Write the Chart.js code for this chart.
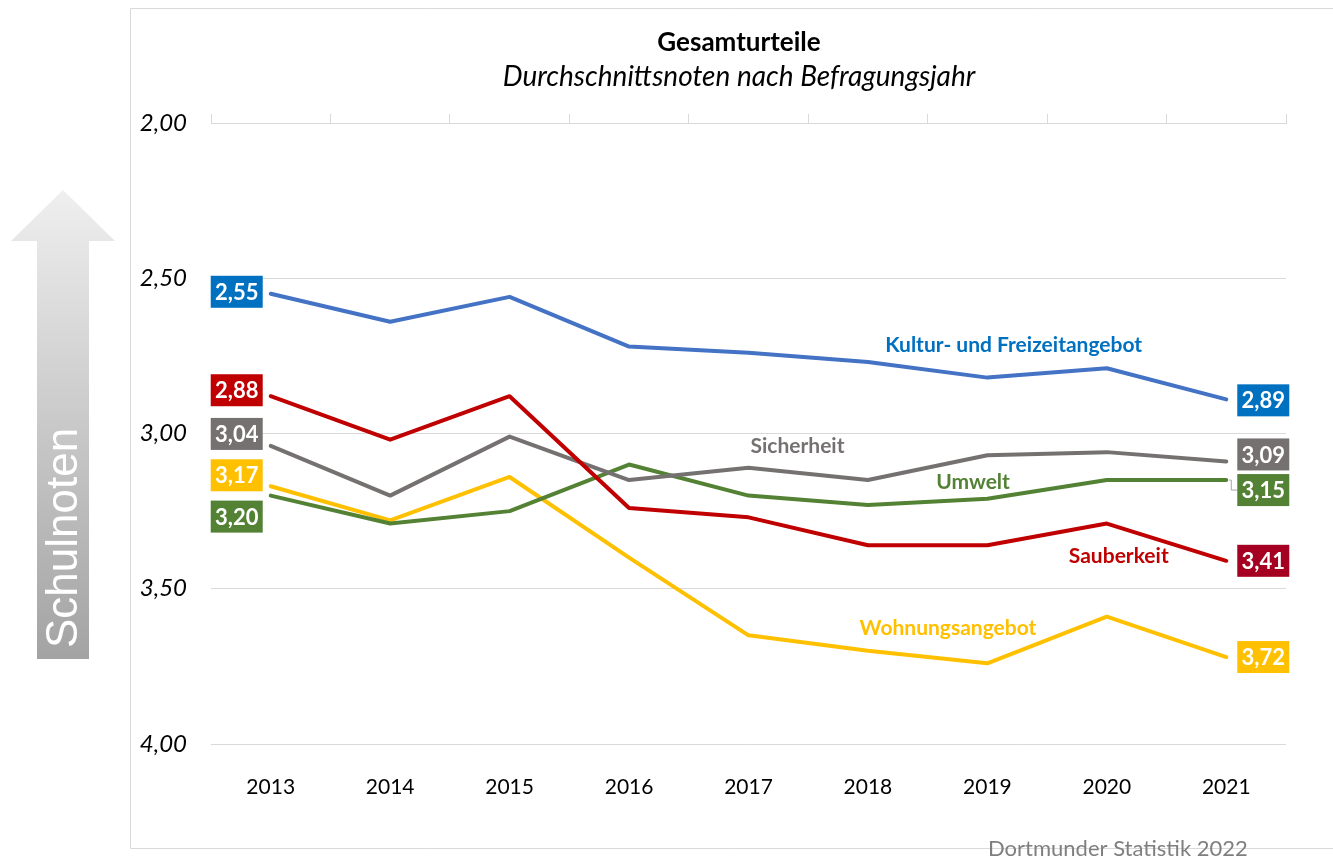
<!DOCTYPE html>
<html lang="de">
<head>
<meta charset="UTF-8">
<title>Gesamturteile</title>
<script src="https://cdn.jsdelivr.net/npm/chart.js"></script>
<style>
    body { margin: 0; background: #ffffff; }
    #wrap { position: relative; width: 1333px; height: 858px; }
</style>
</head>
<body>
<div id="wrap"><canvas id="chartCanvas" width="1333" height="858"></canvas></div>
<script>
    // Daten
    const jahre = ["2013", "2014", "2015", "2016", "2017", "2018", "2019", "2020", "2021"];
    const kultur = [2.55, 2.64, 2.56, 2.72, 2.74, 2.77, 2.82, 2.79, 2.89];
    const sauberkeit = [2.88, 3.02, 2.88, 3.24, 3.27, 3.36, 3.36, 3.29, 3.41];
    const sicherheit = [3.04, 3.20, 3.01, 3.15, 3.11, 3.15, 3.07, 3.06, 3.09];
    const umwelt = [3.20, 3.29, 3.25, 3.10, 3.20, 3.23, 3.21, 3.15, 3.15];
    const wohnung = [3.17, 3.28, 3.14, 3.40, 3.65, 3.70, 3.74, 3.59, 3.72];
    const yTicks = [2.0, 2.5, 3.0, 3.5, 4.0];

    const FONT = "Lato, 'Open Sans', sans-serif";
    const fmt = v => v.toFixed(2).replace(".", ",");

    // Serien mit Stil; Beschriftungsversatz in Pixeln (links / rechts)
    const serien = [
        { name: "Kultur- und Freizeitangebot", data: kultur, line: "#4472C4", boxL: "#0070C0", boxR: "#0070C0", text: "#0070C0", dyL: -2, dyR: 1, nameX: 6.22, nameY: 2.715 },
        { name: "Sauberkeit", data: sauberkeit, line: "#C00000", boxL: "#C00000", boxR: "#A50021", text: "#C00000", dyL: -6, dyR: 0, nameX: 7.1, nameY: 3.395 },
        { name: "Sicherheit", data: sicherheit, line: "#767171", boxL: "#767171", boxR: "#767171", text: "#767171", dyL: -12, dyR: -7, nameX: 4.41, nameY: 3.042 },
        { name: "Umwelt", data: umwelt, line: "#548235", boxL: "#548235", boxR: "#548235", text: "#548235", dyL: 21, dyR: 10, nameX: 5.88, nameY: 3.158 },
        { name: "Wohnungsangebot", data: wohnung, line: "#FFC000", boxL: "#FFC000", boxR: "#FFC000", text: "#FFC000", dyL: -11, dyR: 0, nameX: 5.67, nameY: 3.627 }
    ];

    // Hintergrund, Rahmen, Pfeil, Titel
    const dekoPlugin = {
        id: "deko",
        beforeDraw(chart) {
            const ctx = chart.ctx;
            ctx.save();
            ctx.fillStyle = "#ffffff";
            ctx.fillRect(0, 0, chart.width, chart.height);

            // Rahmen des Diagrammbereichs
            ctx.strokeStyle = "#d9d9d9";
            ctx.lineWidth = 1;
            ctx.beginPath();
            ctx.moveTo(1333, 8.5); ctx.lineTo(130.5, 8.5); ctx.lineTo(130.5, 848.5); ctx.lineTo(1333, 848.5);
            ctx.stroke();

            // Pfeil "Schulnoten"
            const g = ctx.createLinearGradient(0, 190, 0, 659);
            g.addColorStop(0, "#efefef");
            g.addColorStop(1, "#a3a3a3");
            ctx.fillStyle = g;
            ctx.beginPath();
            ctx.moveTo(63, 190);
            ctx.lineTo(115, 241);
            ctx.lineTo(89, 241);
            ctx.lineTo(89, 659);
            ctx.lineTo(37, 659);
            ctx.lineTo(37, 241);
            ctx.lineTo(11, 241);
            ctx.closePath();
            ctx.fill();

            ctx.translate(64, 648);
            ctx.rotate(-Math.PI / 2);
            ctx.fillStyle = "#ffffff";
            ctx.font = "44px 'Liberation Sans', Arial, sans-serif";
            ctx.textAlign = "left";
            ctx.textBaseline = "middle";
            ctx.fillText("Schulnoten", 0, 1);
            ctx.restore();

            ctx.save();
            ctx.fillStyle = "#000000";
            ctx.textAlign = "center";
            ctx.textBaseline = "middle";
            ctx.font = "bold 26px " + FONT;
            ctx.fillText("Gesamturteile", 739, 43);
            ctx.font = "italic 28px " + FONT;
            ctx.fillText("Durchschnittsnoten nach Befragungsjahr", 739, 77);

            ctx.fillStyle = "#7f7f7f";
            ctx.textAlign = "left";
            ctx.font = "22px " + FONT;
            ctx.fillText("Dortmunder Statistik 2022", 988, 849);
            ctx.restore();
        },
        afterDatasetsDraw(chart) {
            const ctx = chart.ctx;
            const x = chart.scales.x;
            const y = chart.scales.y;
            const last = jahre.length - 1;
            ctx.save();
            serien.forEach(s => {
                // Leitlinie fuer versetzte rechte Beschriftung
                const x0 = x.getPixelForValue(0);
                const x1 = x.getPixelForValue(last);
                const yl = y.getPixelForValue(s.data[last]);
                if (Math.abs(s.dyR) > 8) {
                    ctx.strokeStyle = "#a6a6a6";
                    ctx.lineWidth = 1;
                    ctx.beginPath();
                    ctx.moveTo(x1 + 3, yl);
                    ctx.lineTo(x1 + 5, yl);
                    ctx.lineTo(x1 + 5, yl + s.dyR);
                    ctx.lineTo(x1 + 11, yl + s.dyR);
                    ctx.stroke();
                }
                ctx.font = "bold 22px " + FONT;
                ctx.textAlign = "center";
                ctx.textBaseline = "middle";
                // links
                const yf = y.getPixelForValue(s.data[0]) + s.dyL;
                ctx.fillStyle = s.boxL;
                ctx.fillRect(x0 - 60, yf - 16, 52, 32);
                ctx.fillStyle = "#ffffff";
                ctx.fillText(fmt(s.data[0]), x0 - 34, yf + 1);
                // rechts
                const yr = yl + s.dyR;
                ctx.fillStyle = s.boxR;
                ctx.fillRect(x1 + 11, yr - 16, 52, 32);
                ctx.fillStyle = "#ffffff";
                ctx.fillText(fmt(s.data[last]), x1 + 37, yr + 1);
                // Seriennamen
                ctx.fillStyle = s.text;
                ctx.font = "bold 21px " + FONT;
                ctx.fillText(s.name, x.getPixelForValue(s.nameX), y.getPixelForValue(s.nameY));
            });
            ctx.restore();
        }
    };

    const ctx = document.getElementById("chartCanvas").getContext("2d");
    new Chart(ctx, {
        type: "line",
        data: {
            labels: jahre,
            datasets: serien.map(s => ({
                label: s.name,
                data: s.data,
                borderColor: s.line,
                backgroundColor: s.line,
                borderWidth: 4,
                pointRadius: 0,
                tension: 0,
                borderCapStyle: "round",
                borderJoinStyle: "round",
                xAxisID: "x"
            }))
        },
        options: {
            responsive: false,
            animation: false,
            layout: { padding: { left: 130, right: 47, top: 113, bottom: 54 } },
            plugins: {
                legend: { display: false },
                title: { display: false },
                tooltip: { enabled: false }
            },
            scales: {
                x: {
                    position: "bottom",
                    offset: true,
                    grid: { display: false },
                    border: { display: false },
                    ticks: { color: "#000000", padding: 23, font: { family: FONT, size: 21 } },
                    afterFit: s => { s.height = 60; }
                },
                xTop: {
                    position: "top",
                    type: "category",
                    labels: jahre,
                    offset: true,
                    grid: { offset: true, drawOnChartArea: false, drawTicks: true, tickLength: 9, color: "#d9d9d9" },
                    border: { display: true, color: "#d9d9d9" },
                    ticks: { display: false },
                    afterFit: s => { s.height = 10; }
                },
                y: {
                    reverse: true,
                    min: 2,
                    max: 4,
                    afterBuildTicks: s => { s.ticks = yTicks.map(v => ({ value: v })); },
                    grid: { color: "#d9d9d9", lineWidth: 1, drawTicks: false },
                    border: { display: false },
                    ticks: {
                        color: "#000000",
                        padding: 24,
                        font: { family: FONT, size: 24, style: "italic" },
                        callback: v => fmt(v)
                    },
                    afterFit: s => { s.width = 81; }
                }
            }
        },
        plugins: [dekoPlugin]
    });
</script>
</body>
</html>
